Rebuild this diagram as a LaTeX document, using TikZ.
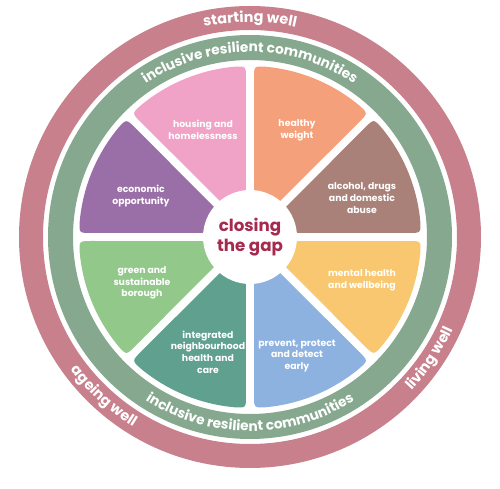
\documentclass[tikz,border=0pt]{standalone}
\usepackage{fontspec}
\setmainfont{Poppins}
\usepackage{xcolor}
\usepackage{tikz}
\usetikzlibrary{decorations.text}
\definecolor{RingRose}  {HTML}{C7808C}
\definecolor{RingSage}  {HTML}{86A88E}
\definecolor{Housing}   {HTML}{F0A2C7}
\definecolor{Healthy}   {HTML}{F4A07B}
\definecolor{Alcohol}   {HTML}{A98178}
\definecolor{Mental}    {HTML}{F8C76F}
\definecolor{Prevent}   {HTML}{8EB2E0}
\definecolor{Integrated}{HTML}{5FA08F}
\definecolor{GreenSeg}  {HTML}{92C98A}
\definecolor{Economic}  {HTML}{9A6EA7}
\definecolor{GapRed}    {HTML}{A52A4E}

\tikzset{
  seglabel/.style={text=white, inner sep=0pt, align=center,
                   font=\bfseries\fontsize{5.3}{6.7}\selectfont},
  ringtext/.style={decorate, decoration={text along path, text color=white,
                   text align=center, text={#1}}}
}

\begin{document}
\begin{tikzpicture}[x=0.02cm, y=0.02cm]
  \useasboundingbox (-250,-252) rectangle (250,237);

  % ===== OUTER RINGS =====
  \draw[RingRose, line width=0.48cm] (0,0) circle (219);
  \draw[RingSage, line width=0.5cm] (0,0) circle (189.5);

  % ===== SEGMENTS (one 45 degree piece, turned round) =====
  \foreach \ang/\col in {0/Alcohol,45/Healthy,90/Housing,135/Economic,
                         180/GreenSeg,225/Integrated,270/Prevent,315/Mental}{
    \begin{scope}[rotate=\ang]
      \fill[\col] (22.5:11) -- (158,4) .. controls (170.95,4) .. (5.36:171)
            arc[start angle=5.36, end angle=39.64, radius=171]
            .. controls (123.71,118.05) .. (115.26,109.60) -- cycle;
    \end{scope}
  }

  % ===== CENTRE =====
  \fill[white] (0,0) circle (47);
  \node[text=GapRed, align=center, font=\bfseries\fontsize{9.5}{11.5}\selectfont]
        (gap) at (0,0) {closing\\the gap};

  % ===== SEGMENT LABELS =====
  \node[seglabel] (housing)    at (-47,107)  {housing and\\homelessness};
  \node[seglabel] (healthy)    at (47,107)   {healthy\\weight};
  \node[seglabel] (alcohol)    at (112,39)   {alcohol, drugs\\and domestic\\abuse};
  \node[seglabel] (mental)     at (112,-43)  {mental health\\and wellbeing};
  \node[seglabel] (prevent)    at (47,-119)  {prevent, protect\\and detect\\early};
  \node[seglabel] (integrated) at (-42,-115) {integrated\\neighbourhood\\health and\\care};
  \node[seglabel] (green)      at (-108,-46) {green and\\sustainable\\borough};
  \node[seglabel] (economic)   at (-109,41)  {economic\\opportunity};

  % ===== RING TEXT =====
  \path[ringtext={|\bfseries\fontsize{7.8}{9}\selectfont|inclusive resilient communities}]
        (160:185) arc[start angle=160, end angle=20, radius=185];
  \path[ringtext={|\bfseries\fontsize{7.8}{9}\selectfont|inclusive resilient communities}]
        (200:194) arc[start angle=200, end angle=340, radius=194];
  \path[ringtext={|\bfseries\fontsize{8.2}{9}\selectfont|starting well}]
        (120:215) arc[start angle=120, end angle=60, radius=215];
  \path[ringtext={|\bfseries\fontsize{8.2}{9}\selectfont|ageing well}]
        (205:223) arc[start angle=205, end angle=250, radius=223];
  \path[ringtext={|\bfseries\fontsize{8.2}{9}\selectfont|living well}]
        (-56:223) arc[start angle=-56, end angle=-12, radius=223];

\end{tikzpicture}
\end{document}
